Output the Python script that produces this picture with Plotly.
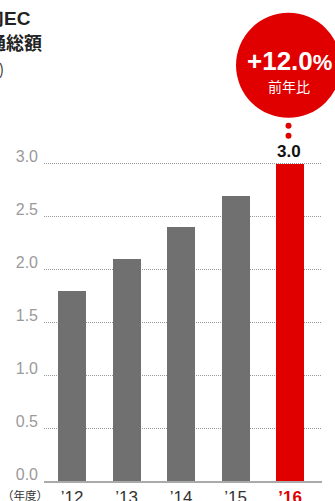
import plotly.graph_objects as go

# ---- data ----
years = ["’12", "’13", "’14", "’15", "’16"]
values = [1.8, 2.1, 2.4, 2.7, 3.0]
bar_colors = ["#707070", "#707070", "#707070", "#707070", "#e00000"]
y_ticks = [0.0, 0.5, 1.0, 1.5, 2.0, 2.5, 3.0]
y_tick_text = ["0.0", "0.5", "1.0", "1.5", "2.0", "2.5", "3.0"]
growth_text = "+12.0"
growth_sub = "前年比"
title_lines = ["国内EC", "流通総額", "(兆円)"]
unit_label = "（年度）"

W, H = 335, 501
ML, MR, MT, MB = 44, 13, 0, 20
X_RANGE = [-0.514, 4.587]
Y_RANGE = [0, 4.55]

def px_to_paper_x(px):
    return (px - ML) / (W - ML - MR)

def px_to_paper_y(py):
    return (H - MB - py) / (H - MB - MT)

def data_to_paper_x(i):
    return (i - X_RANGE[0]) / (X_RANGE[1] - X_RANGE[0])

def data_to_paper_y(v):
    return (v - Y_RANGE[0]) / (Y_RANGE[1] - Y_RANGE[0])

NUM_FONT = "Liberation Sans, Arial, Noto Sans CJK JP"
JP_FONT = "Noto Sans CJK JP, Liberation Sans"

tick_text = [f"<span style='color:#333'>{y}</span>" for y in years[:-1]] + \
            [f"<b><span style='color:#e00000'>{years[-1]}</span></b>"]

fig = go.Figure(go.Bar(
    x=list(range(len(years))), y=values, marker_color=bar_colors,
    marker_line_width=0, width=0.514, hoverinfo="skip"))

last = len(years) - 1
ax = data_to_paper_x(last)
ay = data_to_paper_y(values[-1])

shapes = [
    dict(type="circle", xref="paper", yref="paper", xsizemode="pixel", ysizemode="pixel",
         xanchor=ax, yanchor=ay, x0=-54, x1=51, y0=46, y1=151,
         fillcolor="#e00000", line_width=0, layer="above"),
    dict(type="circle", xref="paper", yref="paper", xsizemode="pixel", ysizemode="pixel",
         xanchor=ax, yanchor=ay, x0=-4.5, x1=1.5, y0=25, y1=31,
         fillcolor="#e00000", line_width=0, layer="above"),
    dict(type="circle", xref="paper", yref="paper", xsizemode="pixel", ysizemode="pixel",
         xanchor=ax, yanchor=ay, x0=-4.5, x1=1.5, y0=35, y1=41,
         fillcolor="#e00000", line_width=0, layer="above"),
]

def note(text, px, py, size, color, family, anchor="right", bold=False):
    t = f"<b>{text}</b>" if bold else text
    return dict(x=px_to_paper_x(px), y=px_to_paper_y(py), xref="paper", yref="paper",
                text=t, showarrow=False, xanchor=anchor, yanchor="middle",
                font=dict(family=family, size=size, color=color))

annotations = [
    dict(x=last, y=values[-1], xref="x", yref="y", text=f"<b>{values[-1]:.1f}</b>",
         showarrow=False, yanchor="bottom", yshift=1, xshift=-1,
         font=dict(family=NUM_FONT, size=17, color="#111")),
    dict(x=last, y=values[-1], xref="x", yref="y",
         text=f"<b>{growth_text}<span style='font-size:22px'>%</span></b>",
         showarrow=False, yanchor="middle", yshift=103, xshift=-1,
         font=dict(family=NUM_FONT, size=26, color="white")),
    dict(x=last, y=values[-1], xref="x", yref="y", text=growth_sub,
         showarrow=False, yanchor="middle", yshift=78, xshift=-1,
         font=dict(family=JP_FONT, size=14, color="white")),
    note(title_lines[0], 33, 19, 19, "#222", NUM_FONT, bold=True),
    note(title_lines[1], 44, 42, 18, "#222", JP_FONT, bold=True),
    note(title_lines[2], 6, 68, 15, "#333", JP_FONT),
    note(unit_label, 50, 495, 11.5, "#333", JP_FONT),
]

fig.update_layout(
    width=W, height=H, margin=dict(l=ML, r=MR, t=MT, b=MB),
    paper_bgcolor="white", plot_bgcolor="white", showlegend=False,
    bargap=0, shapes=shapes, annotations=annotations,
    xaxis=dict(range=X_RANGE, tickvals=list(range(len(years))), ticktext=tick_text,
               showgrid=False, zeroline=False, showline=True, linecolor="#aaaaaa",
               linewidth=1.5, ticks="", tickfont=dict(family=NUM_FONT, size=17, color="#333"),
               ticklabelstandoff=0, automargin=False, fixedrange=True),
    yaxis=dict(range=Y_RANGE, tickvals=y_ticks, ticktext=y_tick_text,
               showgrid=True, gridcolor="#999999", griddash="1px,1px", gridwidth=1,
               zeroline=False, showline=False, ticks="",
               ticklabelshift=-7,
               tickfont=dict(family=NUM_FONT, size=16, color="#9a9a9a"),
               ticklabelstandoff=5, automargin=False, fixedrange=True),
)

fig.write_html("out.html", config={"displayModeBar": False},
               post_script="document.body.style.margin='0';document.body.style.overflow='hidden';")
